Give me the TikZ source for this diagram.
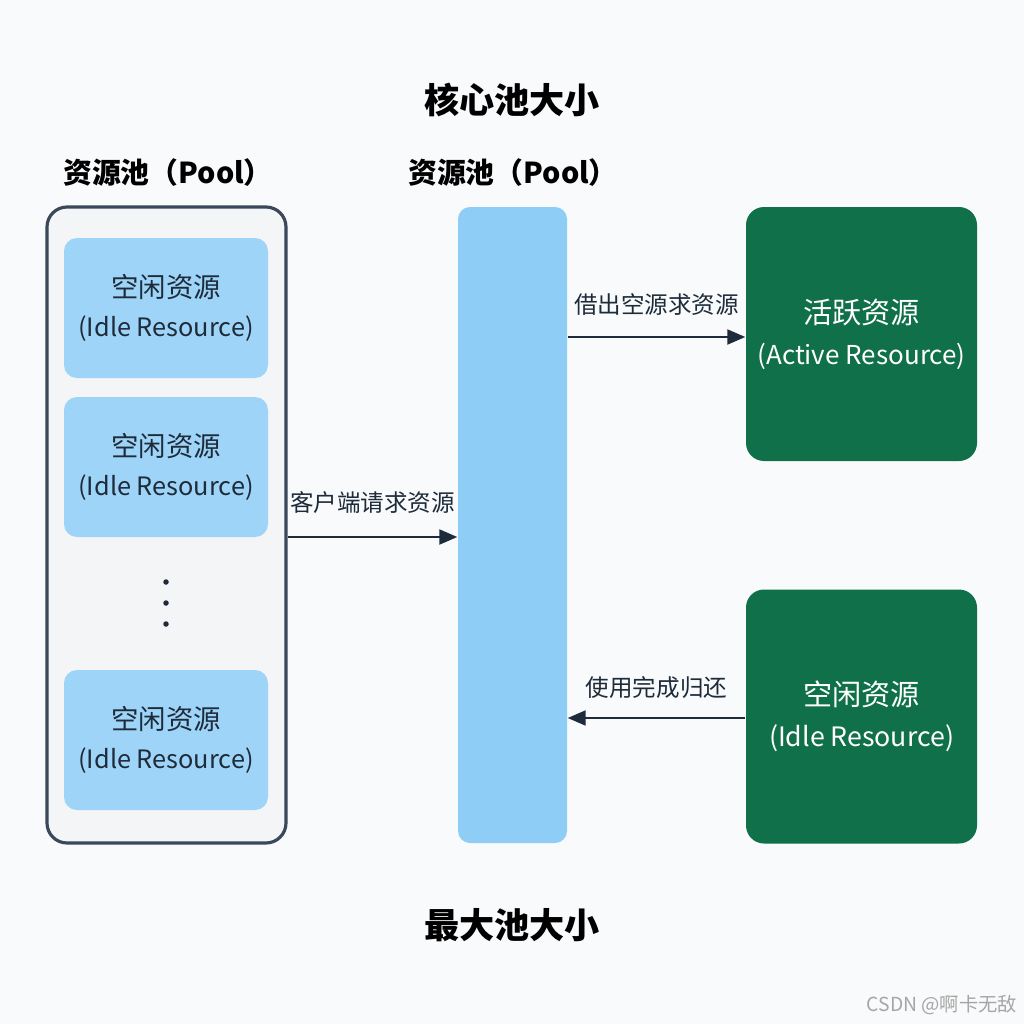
\documentclass[tikz,border=0pt]{standalone}
\usepackage{fontspec}
\setmainfont{Noto Sans CJK SC}
\usepackage{tikz}
\usetikzlibrary{positioning,calc}
\usetikzlibrary{arrows.meta}
\definecolor{PageBg}{RGB}{249,250,251}
\definecolor{PoolBg}{RGB}{243,245,247}
\definecolor{PoolLine}{RGB}{58,72,90}
\definecolor{IdleBlue}{RGB}{158,212,247}
\definecolor{BarBlue}{RGB}{141,205,246}
\definecolor{ActGreen}{RGB}{16,112,74}
\definecolor{InkDark}{RGB}{30,43,58}
\newcommand{\enline}[2]{{\fontsize{#1}{11}\selectfont #2}}
\tikzset{
	pool/.style={draw=PoolLine,fill=PoolBg,rounded corners=2mm,line width=0.9pt,
		minimum width=23.9mm,minimum height=63.6mm,inner sep=0pt},
	idle/.style={fill=IdleBlue,rounded corners=1.3mm,minimum width=20.4mm,minimum height=14mm,
		inner sep=0pt,align=center,text=InkDark,font=\fontsize{7.8}{11}\selectfont},
	bar/.style={fill=BarBlue,rounded corners=1.2mm,minimum width=10.9mm,minimum height=63.6mm,inner sep=0pt},
	live/.style={fill=ActGreen,rounded corners=1.8mm,minimum width=23.1mm,minimum height=25.4mm,
		inner sep=0pt,align=center,text=white,font=\fontsize{8.3}{11.6}\selectfont},
	dot/.style={circle,fill=InkDark,inner sep=0pt,minimum size=0.55mm},
	flow/.style={draw=InkDark,line width=0.6pt,-{Triangle[length=1.8mm,width=1.5mm]}},
	tag/.style={text=InkDark,font=\fontsize{6.7}{8}\selectfont,inner sep=0pt},
	head/.style={text=black,font=\fontsize{10}{12}\selectfont\bfseries,inner sep=0pt},
	sub/.style={text=black,font=\fontsize{8.2}{10}\selectfont\bfseries,inner sep=0pt},
}

\begin{document}
\begin{tikzpicture}[x=0.1mm,y=-0.1mm]
	\fill[PageBg] (0,0) rectangle (1024,1024);
	\useasboundingbox (0,0) rectangle (1024,1024);
	\node[head] (core) at (512,100) {核心池大小};
	\node[head] (max) at (512,925) {最大池大小};
	\node[sub] (pooltitle) at (168,173) {资源池（Pool）};
	\node[sub] (bartitle) at (513,173) {资源池（Pool）};
	\node[pool] (pool) at (166.5,525) {};
	\node[idle] (idle1) at (166,308) {空闲资源\\\enline{7.2}{(Idle Resource)}};
	\node[idle] (idle2) at (166,467) {空闲资源\\\enline{7.2}{(Idle Resource)}};
	\node[idle] (idle3) at (166,740) {空闲资源\\\enline{7.2}{(Idle Resource)}};
	\foreach \k/\yy in {1/582,2/603,3/624}
		\node[dot] (d\k) at (166,\yy) {};
	\node[bar] (bar) at (512.5,525) {};
	\node[live] (act) at (861.5,334) {活跃资源\\\enline{7.4}{(Active Resource)}};
	\node[live] (back) at (861.5,716.5) {空闲资源\\\enline{7.6}{(Idle Resource)}};
	\draw[flow] ([yshift=-1.2mm]pool.east) -- ([yshift=-1.2mm]bar.west)
		node[tag,midway,above=2.2mm] (req) {客户端请求资源};
	\draw[flow] ([yshift=-0.3mm]bar.east |- act.west) -- ([yshift=-0.3mm]act.west)
		node[tag,midway,above=2mm] (lend) {借出空源求资源};
	\draw[flow] ([yshift=-0.15mm]back.west) -- ([yshift=-0.15mm]bar.east |- back.west)
		node[tag,midway,above=1.8mm] (ret) {使用完成归还};
	\node[text=black!35,font=\fontsize{5.5}{6}\selectfont,inner sep=0pt] (mark) at (942,1005) {CSDN @啊卡无敌};
\end{tikzpicture}
\end{document}
